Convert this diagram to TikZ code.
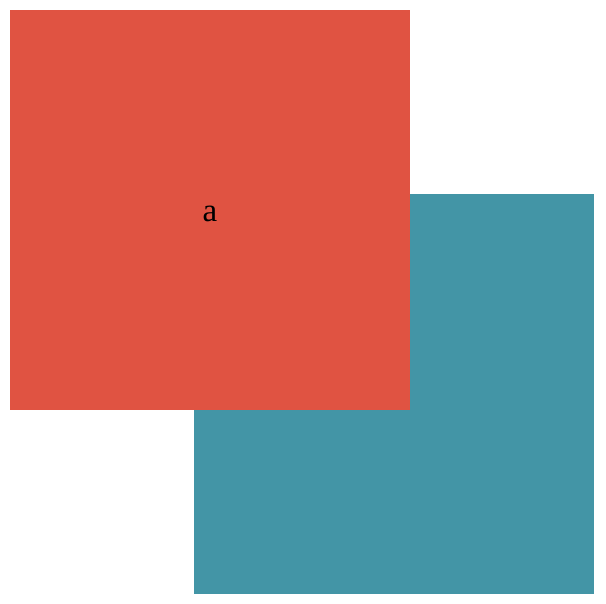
\documentclass[tikz,border=0pt]{standalone}
\usepackage{fontspec}
\setmainfont{Liberation Serif}
\definecolor{boxred}{HTML}{E05342}
\definecolor{boxteal}{HTML}{4395A6}
\begin{document}
\begin{tikzpicture}[x=1pt,y=-1pt,
    square/.style={minimum size=400pt, inner sep=0pt, outer sep=0pt, anchor=north west}]
  \useasboundingbox (0,0) rectangle (606,604);
  % back square first, front square over it
  \node[square, fill=boxteal] (back) at (194,194) {};
  \node[square, fill=boxred, font=\fontsize{33}{38}\selectfont,
        text height=23pt, text depth=0pt] (front) at (10,10) {a};
\end{tikzpicture}
\end{document}
